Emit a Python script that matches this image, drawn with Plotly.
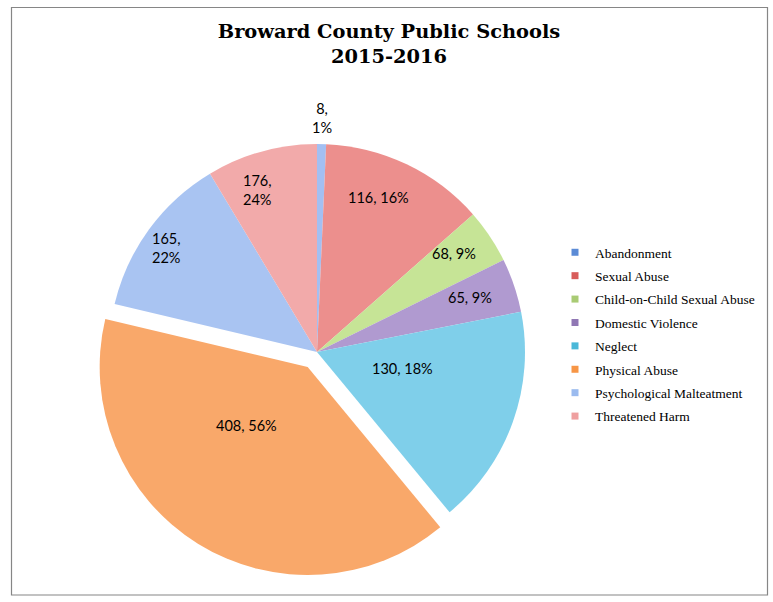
import math
import plotly.graph_objects as go

# ---- data ----
categories = ["Abandonment", "Sexual Abuse", "Child-on-Child Sexual Abuse",
              "Domestic Violence", "Neglect", "Physical Abuse",
              "Psychological Malteatment", "Threatened Harm"]
counts = [8, 116, 68, 65, 130, 408, 165, 176]
pct_labels = ["1%", "16%", "9%", "9%", "18%", "56%", "22%", "24%"]
# share of the circle each slice occupies in the drawing (%)
slice_share = [0.7, 12.8, 4.2, 4.2, 17.1, 39.7, 12.7, 8.6]

# ---- styles ----
slice_colors = ["#a3bff2", "#ec8f8d", "#c6e496", "#b09ad0",
                "#7fcfea", "#f9a86a", "#a9c4f2", "#f2aaaa"]
legend_colors = ["#5b8bd6", "#d85c5a", "#a9cb74", "#9077b4",
                 "#4ab8d8", "#f79646", "#9bbbef", "#efa0a0"]
pulls = [0, 0, 0, 0, 0, 0.085, 0, 0]
label_break = [True, False, False, False, False, False, True, True]
label_rfrac = [1.125, 0.80, 0.81, 0.78, 0.42, 0.49, 0.88, 0.83]
label_dangle = [0, -3.8, -2.0, -1.0, -8.7, 12.0, -1.4, -4.7]  # degrees

W, H = 773, 602
CX, CY, R = 317.0, 352.0, 208.0
half = R * (1 + max(pulls))

fig = go.Figure()
fig.add_trace(go.Pie(
    labels=categories, values=slice_share, sort=False, direction="clockwise",
    rotation=0, pull=pulls, textinfo="none", hoverinfo="label",
    marker=dict(colors=slice_colors, line=dict(width=0)),
    domain=dict(x=[(CX - half) / W, (CX + half) / W],
                y=[1 - (CY + half) / H, 1 - (CY - half) / H]),
    showlegend=False,
))

# legend entries (one per category)
for name, col in zip(categories, legend_colors):
    fig.add_trace(go.Scatter(
        x=[None], y=[None], mode="markers", name=name, legendgroup=name,
        marker=dict(symbol="square", size=7, color=col),
    ))

# data labels positioned along each slice's bisector
annotations = []
total = sum(slice_share)
cum = 0.0
for i, v in enumerate(slice_share):
    mid = (cum + v / 2) / total * 2 * math.pi + math.radians(label_dangle[i])
    cum += v
    rr = label_rfrac[i] * R
    px = CX + rr * math.sin(mid)
    py = CY - rr * math.cos(mid)
    sep = ",<br>" if label_break[i] else ", "
    annotations.append(dict(
        x=px / W, y=1 - py / H, xref="paper", yref="paper",
        text=f"{counts[i]}{sep}{pct_labels[i]}", showarrow=False,
        font=dict(family="Lato", size=14.5, color="#000000"),
        xanchor="center", yanchor="middle", align="center",
    ))

fig.update_layout(
    width=W, height=H, margin=dict(l=0, r=0, t=0, b=0),
    paper_bgcolor="white", plot_bgcolor="white",
    title=dict(text="<b>Broward County Public Schools<br>2015-2016</b>",
               x=389 / W, xanchor="center", xref="paper",
               y=1 - 38 / H, yanchor="top", yref="paper",
               font=dict(family="DejaVu Serif", size=19.4, color="#000000")),
    xaxis=dict(visible=False), yaxis=dict(visible=False),
    legend=dict(x=555 / W, xanchor="left", y=1 - 237 / H, yanchor="top",
                font=dict(family="Liberation Serif", size=13.5, color="#000000"),
                tracegroupgap=2.85, bgcolor="rgba(0,0,0,0)"),
    annotations=annotations,
    shapes=[dict(type="rect", xref="paper", yref="paper",
                 x0=11.5 / W, x1=767.5 / W, y0=1 - 595 / H, y1=1 - 7.5 / H,
                 line=dict(color="#868686", width=1.2))],
)

fig.write_html("out.html", config={"displayModeBar": False},
               post_script="document.body.style.margin='0';"
                           "document.body.style.overflow='hidden';")
